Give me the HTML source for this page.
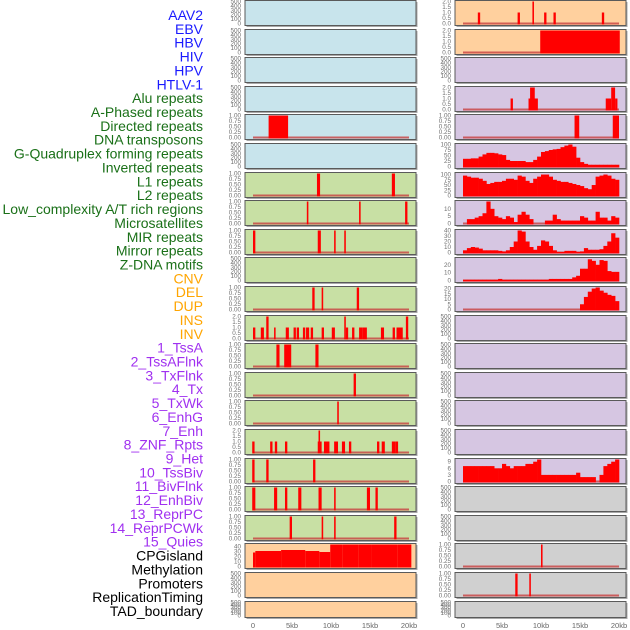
<!DOCTYPE html>
<html><head><meta charset="utf-8">
<style>
html,body{margin:0;padding:0;background:#fff;}
svg{display:block;font-family:"Liberation Sans",sans-serif;}
</style></head>
<body>
<svg id="chart" width="630" height="630" viewBox="0 0 630 630"></svg>
<script>
const trackLabels = ["AAV2","EBV","HBV","HIV","HPV","HTLV-1","Alu repeats","A-Phased repeats","Directed repeats","DNA transposons","G-Quadruplex forming repeats","Inverted repeats","L1 repeats","L2 repeats","Low_complexity A/T rich regions","Microsatellites","MIR repeats","Mirror repeats","Z-DNA motifs","CNV","DEL","DUP","INS","INV","1_TssA","2_TssAFlnk","3_TxFlnk","4_Tx","5_TxWk","6_EnhG","7_Enh","8_ZNF_Rpts","9_Het","10_TssBiv","11_BivFlnk","12_EnhBiv","13_ReprPC","14_ReprPCWk","15_Quies","CPGisland","Methylation","Promoters","ReplicationTiming","TAD_boundary"];
const labelGroups = [6,13,5,15,5];
const xTickLabels = ["0","5kb","10kb","15kb","20kb"];
const xTickValues = [0,5,10,15,20];

const barsL4 = [[2.0,4.5,1]];
const barsL6 = [[8.2,8.6,1],[17.8,18.2,1]];
const barsL7 = [[6.9,7.1,1],[13.6,13.8,1],[19.5,19.8,1]];
const barsL8 = [[0,0.3,1],[8.3,8.7,1],[10.4,10.6,1],[11.7,11.9,1]];
const barsL10 = [[7.6,7.9,1],[8.8,9.0,1],[13.3,13.6,1]];
const barsL11 = [[0,0.3,1],[1.0,1.4,1],[1.7,2.0,2],[2.7,2.9,1],[4.2,4.6,1],[5.2,5.5,1],[5.6,5.9,1],[6.4,6.7,1],[6.8,7.2,1],[7.4,7.7,1],[8.8,9.1,1],[10.1,10.5,1],[11.7,11.9,2],[11.9,12.2,1],[12.7,13.0,1],[13.6,14.0,1],[14.0,14.6,1],[16.4,16.8,1],[17.9,18.2,1],[18.4,19.2,1],[19.6,19.9,2]];
const barsL12 = [[3.0,3.4,1],[4.0,4.9,1],[8.0,8.4,1]];
const barsL13 = [[12.9,13.2,1]];
const barsL14 = [[10.8,11.0,1]];
const barsL15 = [[-0.1,0.2,1],[2.2,2.5,1],[2.8,3.1,1],[4.1,4.4,1],[8.3,8.8,1],[8.4,8.6,2],[9.1,9.8,1],[10.4,10.9,1],[11.4,11.8,1],[12.3,12.6,1],[15.9,16.2,1],[16.5,16.9,1],[17.8,18.3,1],[18.3,18.6,1]];
const barsL16 = [[-0.1,0.2,1],[1.7,2.0,1],[7.7,8.0,1]];
const barsL17 = [[-0.1,0.3,1],[2.7,3.1,1],[4.1,4.4,1],[5.8,6.2,1],[8.4,8.8,1],[10.4,10.6,1],[14.6,15.0,1],[15.7,16.0,1]];
const barsL18 = [[4.7,5.0,1],[8.8,9.0,1],[10.4,10.6,1],[18.1,18.4,1]];
const cpgSegments = [[0,0.3,28],[0.3,3.6,31],[3.6,6.7,33],[6.7,8.5,31],[8.5,9.9,29],[9.9,11.5,44],[11.5,13.5,44],[13.5,15.2,45],[15.2,18.5,44],[18.5,20.3,45]];
const barsR0 = [[1.9,2.2,1],[7.0,7.3,1],[8.9,9.1,2],[10.4,10.7,1],[11.6,11.9,1],[17.8,18.1,1]];
const barsR1 = [[9.9,20.1,2]];
const barsR3 = [[6.1,6.4,1],[8.6,9.2,2],[8.4,9.6,1],[18.3,19.0,1],[19.0,19.5,2],[19.5,19.8,1]];
const barsR4 = [[14.3,14.9,1],[19.2,20.0,1]];
const barsR19 = [[10.0,10.2,1]];
const barsR20 = [[6.7,7.0,1],[8.5,8.7,1]];

const areaR5 = [35,35,37,37,45,55,62,62,60,55,52,30,25,25,25,25,20,20,30,45,66,70,75,78,80,88,95,100,90,40,20,12,8,8,8,8,8,8,8,8];
const areaR6 = [95,90,85,85,80,70,55,60,65,65,70,80,80,75,95,90,70,60,80,90,100,100,90,75,70,65,65,60,55,50,45,35,30,50,90,95,100,95,80,75];
const areaR7 = [0,3,3,4,5,7,15,10,5,4,3,5,4,1,6,8,6,3,0,0,0,2,2,6,3,2,2,2,2,2,5,4,2,2,8,4,4,2,5,4];
const areaR8 = [4,8,10,9,7,4,4,4,4,3,2,4,10,20,40,38,20,10,5,12,22,20,12,4,1,1,3,3,3,1,2,8,5,5,5,6,12,20,35,27];
const areaR9 = [1,1,1,1,1,1,1,1,1,2,1,1,1,1,1,1,1,1,1,1,1,1,2,2,2,2,2,2,4,6,15,15,27,25,20,26,25,12,11,11];
const areaR10 = [0,0,0,0,0,0,0,0,0,0,0,0,0,0,0,0,0,0,0,0,0,0,0,0,0,0,0,0,0,0,5,12,17,20,21,18,16,14,13,8];
const areaR16 = [7,7,7,7,7,7,7,7,6,6,8,7,6,7,7,7,8,8,9,10,3,3,3,3,3,3,3,3,3,4,2,2,2,2,0,3,7,8,9,10];

const T1 = ["0.00","0.25","0.50","0.75","1.00"];
const T2 = ["0.0","0.5","1.0","1.5","2.0"];
const TE = ["0","100","200","300","400","500"];
const BLUE="#c8e4ec", GREEN="#c8e0a4", PEACH="#ffd09e", PURPLE="#d6c6e2", GREY="#d0d0d0";

const leftPanels = [
 {bg:BLUE,t:"e"},{bg:BLUE,t:"e"},{bg:BLUE,t:"e"},{bg:BLUE,t:"e"},
 {bg:BLUE,t:"b",d:barsL4,m:1,ticks:T1},{bg:BLUE,t:"e"},
 {bg:GREEN,t:"b",d:barsL6,m:1,ticks:T1},{bg:GREEN,t:"b",d:barsL7,m:1,ticks:T1},
 {bg:GREEN,t:"b",d:barsL8,m:1,ticks:T1},{bg:GREEN,t:"e"},
 {bg:GREEN,t:"b",d:barsL10,m:1,ticks:T1},{bg:GREEN,t:"b",d:barsL11,m:2,ticks:T2},
 {bg:GREEN,t:"b",d:barsL12,m:1,ticks:T1},{bg:GREEN,t:"b",d:barsL13,m:1,ticks:T1},
 {bg:GREEN,t:"b",d:barsL14,m:1,ticks:T1},{bg:GREEN,t:"b",d:barsL15,m:2,ticks:T2},
 {bg:GREEN,t:"b",d:barsL16,m:1,ticks:T1},{bg:GREEN,t:"b",d:barsL17,m:1,ticks:T1},
 {bg:GREEN,t:"b",d:barsL18,m:1,ticks:T1},
 {bg:PEACH,t:"b",d:cpgSegments,m:44,ticks:["0","10","20","30","40"],tv:[0,10,20,30,40],nobase:true},
 {bg:PEACH,t:"e"},{bg:PEACH,t:"e"}
];
const rightPanels = [
 {bg:PEACH,t:"b",d:barsR0,m:2,ticks:T2},{bg:PEACH,t:"b",d:barsR1,m:2,ticks:T2},
 {bg:PURPLE,t:"e"},{bg:PURPLE,t:"b",d:barsR3,m:2,ticks:T2},
 {bg:PURPLE,t:"b",d:barsR4,m:1,ticks:T1},
 {bg:PURPLE,t:"a",d:areaR5,m:100,ticks:["0","25","50","75","100"],tv:[0,25,50,75,100]},
 {bg:PURPLE,t:"a",d:areaR6,m:105,ticks:["0","25","50","75","100"],tv:[0,25,50,75,100]},
 {bg:PURPLE,t:"a",d:areaR7,m:15,ticks:["0","5","10"],tv:[0,5,10]},
 {bg:PURPLE,t:"a",d:areaR8,m:40,ticks:["0","10","20","30","40"],tv:[0,10,20,30,40]},
 {bg:PURPLE,t:"a",d:areaR9,m:28,ticks:["0","10","20"],tv:[0,10,20]},
 {bg:PURPLE,t:"a",d:areaR10,m:21,ticks:["0","5","10","15","20"],tv:[0,5,10,15,20]},
 {bg:PURPLE,t:"e"},{bg:PURPLE,t:"e"},{bg:PURPLE,t:"e"},{bg:PURPLE,t:"e"},{bg:PURPLE,t:"e"},
 {bg:PURPLE,t:"a",d:areaR16,m:10,ticks:["0","3","6","9"],tv:[0,3,6,9]},
 {bg:GREY,t:"e"},{bg:GREY,t:"e"},
 {bg:GREY,t:"b",d:barsR19,m:1,ticks:T1},{bg:GREY,t:"b",d:barsR20,m:1,ticks:T1},
 {bg:GREY,t:"e"}
];

const NS="http://www.w3.org/2000/svg";
const svg=document.getElementById("chart");
function mk(tag,attrs,parent){const e=document.createElementNS(NS,tag);for(const k in attrs)e.setAttribute(k,attrs[k]);(parent||svg).appendChild(e);return e;}

const groupColors=["#1a1aff","#1a7018","#ffa500","#a030f0","#000000"];
let li=0;
labelGroups.forEach((n,g)=>{for(let j=0;j<n;j++){
  const t=mk("text",{x:203,y:15+li*13.86,"text-anchor":"end","dominant-baseline":"central","font-size":"14",fill:groupColors[g]});
  t.textContent=trackLabels[li];
  
  
  li++;}});

const PW=171;
function drawPanel(p,i,left,side){
  const top=Math.round(i*28.6)+0.5, h=(i===21)?16:25;
  const g=mk("g",{});
  
  
  mk("rect",{x:left+1.5,y:top+1.5,width:PW,height:h,fill:"#a8a8a8"},g);
  mk("rect",{x:left,y:top,width:PW,height:h,fill:p.bg,stroke:"#5a5a5a","stroke-width":1},g);
  const xS=kb=>left+8+kb*7.8;
  const m=p.t==="e"?500:p.m;
  const yS=v=>top+h-2-Math.min(v,m)/m*(h-3);
  let labs, vals;
  if(p.t==="e"){labs=TE;vals=[0,100,200,300,400,500];}
  else {labs=p.ticks;vals=p.tv||labs.map(Number);}
  labs.forEach((s,k)=>{const t=mk("text",{x:left-4,y:yS(vals[k])+2,"text-anchor":"end","font-size":"6.3",fill:"#707070"},g);t.textContent=s;});
  if(p.t==="e") return;
  if(!p.nobase) mk("rect",{x:xS(0),y:yS(0)-1,width:xS(20)-xS(0),height:2,fill:"#c84040",opacity:0.8},g);
  if(p.t==="b"){
    p.d.forEach(b=>{const r=mk("rect",{x:xS(Math.max(b[0],-0.9)),y:yS(b[2]),width:Math.max(1,xS(b[1])-xS(b[0])),height:yS(0)-yS(b[2])+1,fill:"#ff0000"},g);
      
      });
  } else {
    p.d.forEach((v,k)=>{if(v<=0)return;const r=mk("rect",{x:xS(k*0.5),y:yS(v),width:xS(k*0.5+0.5)-xS(k*0.5)+0.3,height:yS(0)-yS(v)+1,fill:"#ff0000"},g);
      
      });
  }
}
leftPanels.forEach((p,i)=>drawPanel(p,i,245,"left"));
rightPanels.forEach((p,i)=>drawPanel(p,i,455,"right"));

[245,455].forEach(left=>{
  xTickValues.forEach((v,k)=>{const t=mk("text",{x:left+8+v*7.8,y:628,"text-anchor":"middle","font-size":"7.5",fill:"#666"});
    t.textContent=xTickLabels[k];
    
    });
});
</script>
</body></html>
